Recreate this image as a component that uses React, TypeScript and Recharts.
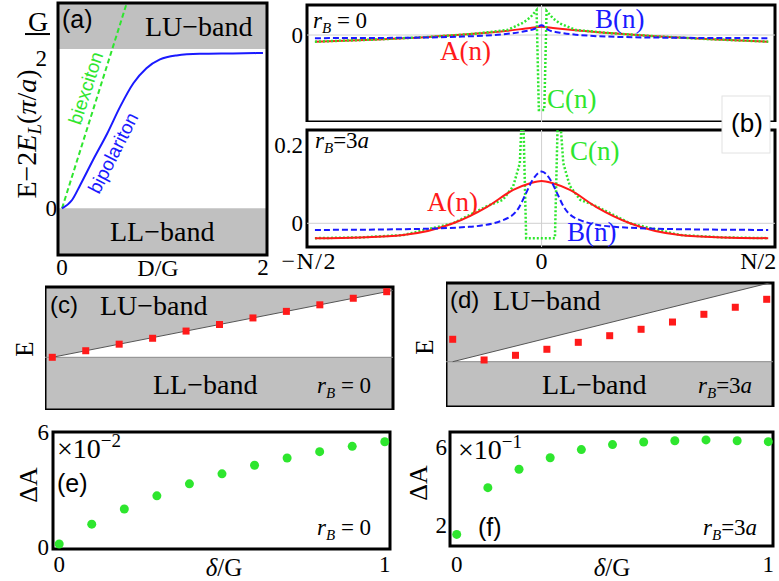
import React from 'react';
import { ComposedChart, Line, Scatter, Area, XAxis, YAxis, ReferenceArea, ReferenceLine } from 'recharts';

const SERIF = '"Liberation Serif", "Times New Roman", serif';
const SANS = '"Liberation Sans", Arial, sans-serif';
const RED = '#ff1a1a';
const BLUE = '#1a1aff';
const GREEN = '#2ee62e';
const BAND = '#c0c0c0';
const PAD = 14;

// (a) two-photon energies vs D/G
const aDx = [0, 0.1, 0.18, 0.31, 0.45, 0.58, 0.71, 0.84, 0.975, 1.14, 1.37, 1.7, 2.0];
const aBipolariton = [0, 0.105, 0.29, 0.61, 0.94, 1.28, 1.57, 1.76, 1.87, 1.92, 1.94, 1.945, 1.95];
const aBiexDx = [0, 0.66];
const aBiexciton = [0, 2.64];

// (b) profiles, r_B = 0
const topAn = [-100, -75, -50, -30, -15, -5, 0, 5, 15, 30, 50, 75, 100];
const topA = [-0.017, -0.012, -0.005, 0.003, 0.011, 0.018, 0.021, 0.018, 0.012, 0.005, -0.003, -0.011, -0.017];
const topBn = [-100, -60, -35, -17, -8, -3, 0, 3, 8, 17, 35, 60, 100];
const topB = [-0.008, -0.007, -0.004, 0.002, 0.009, 0.016, 0.025, 0.013, 0.006, 0.0, -0.005, -0.007, -0.008];
const topCn = [-100, -75, -50, -30, -15, -8, -5, -2.2, -1.2, 1.2, 2.2, 5, 8, 15, 30, 50, 75, 100];
const topC = [-0.017, -0.012, -0.005, 0.003, 0.013, 0.032, 0.045, 0.064, -0.192, -0.192, 0.062, 0.043, 0.03, 0.013, 0.005, -0.003, -0.011, -0.017];

// (b) profiles, r_B = 3a
const botAn = [-100, -80, -61, -39, -24, -12.5, -5, 0, 5, 12.5, 24, 39, 61, 80, 100];
const botA = [-0.038, -0.036, -0.03, 0.0, 0.042, 0.085, 0.102, 0.108, 0.102, 0.085, 0.042, 0.0, -0.03, -0.036, -0.038];
const botBn = [-100, -60, -32, -17, -10, -7, -4, 0, 4, 7, 10, 17, 32, 60, 100];
const botB = [-0.017, -0.015, -0.009, 0.008, 0.04, 0.075, 0.11, 0.132, 0.11, 0.075, 0.04, 0.008, -0.009, -0.015, -0.017];
const botCn = [-100, -80, -61, -39, -24, -17, -12.5, -9.6, -8.3, -6.8, 5.9, 7.4, 9.6, 12.5, 17, 24, 39, 61, 80, 100];
const botC = [-0.038, -0.036, -0.03, 0.0, 0.044, 0.06, 0.095, 0.153, 0.33, -0.038, -0.038, 0.33, 0.153, 0.095, 0.06, 0.044, 0.0, -0.03, -0.036, -0.038];

// (c)-(f) vs delta/G
const deltas = [0, 0.1, 0.2, 0.3, 0.4, 0.5, 0.6, 0.7, 0.8, 0.9, 1.0];
const cEnergy = [0, 0.1, 0.2, 0.29, 0.4, 0.5, 0.6, 0.7, 0.8, 0.9, 1.0];
const dEnergy = [0.287, 0.022, 0.082, 0.159, 0.248, 0.333, 0.415, 0.508, 0.607, 0.697, 0.799];
const eDeltaA = [0.14, 1.18, 1.97, 2.66, 3.29, 3.81, 4.26, 4.64, 4.97, 5.25, 5.49];
const fDeltaA = [1.48, 3.9, 4.85, 5.45, 5.87, 6.13, 6.26, 6.33, 6.37, 6.33, 6.28];
const bandEdgeX = [-0.05, 0, 1.05];
const luEdge = [0, 0, 1.05];

const pts = (xs: number[], ys: number[]) => xs.map((x, i) => ({ x, y: ys[i] }));
const luBand = bandEdgeX.map((x, i) => ({ x, band: [luEdge[i], 2] }));
const luLine = pts(bandEdgeX.slice(1), luEdge.slice(1));

const tickFont = { fontSize: 23, fontFamily: SERIF, fill: '#000' };

type Box = { L: number; T: number; R: number; B: number; yw: number; xh: number };

function Panel({ box, children }: { box: Box; children: React.ReactNode }) {
  const w = box.yw + (box.R - box.L) + PAD;
  const h = PAD + (box.B - box.T) + box.xh;
  return (
    <div style={{ position: 'absolute', left: box.L - box.yw, top: box.T - PAD }}>
      <ComposedChart width={w} height={h} margin={{ top: PAD, right: PAD, bottom: 0, left: 0 }}>
        {children}
      </ComposedChart>
    </div>
  );
}

function Label({ x, y, size = 26, color = '#000', font = SERIF, anchor = 'start', angle = 0, children }: any) {
  return (
    <text transform={`translate(${x},${y}) rotate(${angle})`} fontSize={size} fill={color} fontFamily={font} textAnchor={anchor}>
      {children}
    </text>
  );
}

function RB({ x, y, zero }: { x: number; y: number; zero?: boolean }) {
  return (
    <Label x={x} y={y} size={23}>
      <tspan fontStyle="italic">r</tspan>
      <tspan fontSize={15} dy={5} fontStyle="italic">B</tspan>
      {zero ? (
        <tspan dy={-5}> = 0</tspan>
      ) : (
        <>
          <tspan dy={-5}>=3</tspan>
          <tspan fontStyle="italic">a</tspan>
        </>
      )}
    </Label>
  );
}

const square = (p: any) => <rect x={p.cx - 3.5} y={p.cy - 3.5} width={7} height={7} fill={RED} />;
const dot = (p: any) => <circle cx={p.cx} cy={p.cy} r={4.5} fill={GREEN} />;

const aYTick = (p: any) => {
  if (p.payload.value === 2) {
    return (
      <g fontFamily={SERIF} fontSize={23} fill="#000">
        <text x={p.x - 10} y={p.y + 17} textAnchor="end">2</text>
        <text x={p.x - 19} y={p.y - 18} textAnchor="middle" fontSize={28}>G</text>
        <line x1={p.x - 32} x2={p.x - 7} y1={p.y - 15} y2={p.y - 15} stroke="#000" strokeWidth={2} />
      </g>
    );
  }
  return (
    <text x={p.x} y={p.y} dy="0.35em" textAnchor="end" fontFamily={SERIF} fontSize={23} fill="#000">0</text>
  );
};

// edge labels of the site axis sit pulled in like the original
const nTick = (p: any) => {
  const v = p.payload.value;
  const txt = v < 0 ? '−N/2' : v > 0 ? 'N/2' : '0';
  const x = v < 0 ? p.x + 22 : v > 0 ? p.x + 8 : p.x;
  const anchor = v === 0 ? 'middle' : 'end';
  return (
    <text x={x} y={p.y} dy="0.71em" textAnchor={anchor} fontFamily={SERIF} fontSize={24} fill="#000" letterSpacing={v < 0 ? 1.5 : 0}>
      {txt}
    </text>
  );
};

const A: Box = { L: 58, T: 3, R: 267, B: 255, yw: 58, xh: 35 };
const aX: [number, number] = [-0.04, 2.04];
const aY: [number, number] = [-0.586, 2.578];

const BT: Box = { L: 307, T: 5, R: 775, B: 122, yw: 40, xh: 0 };
const BB: Box = { L: 307, T: 130, R: 775, B: 247, yw: 40, xh: 32 };
const bX: [number, number] = [-103.5, 103];
const btY: [number, number] = [-0.223, 0.077];
const bbY: [number, number] = [-0.0605, 0.238];

const C: Box = { L: 45, T: 287, R: 393, B: 410, yw: 0, xh: 0 };
const cX: [number, number] = [-0.0218, 1.0188];
const cY: [number, number] = [-0.8034, 1.0716];
const D: Box = { L: 446, T: 283, R: 773, B: 407, yw: 0, xh: 0 };
const dX: [number, number] = [-0.0213, 1.0201];
const dY: [number, number] = [-0.58, 1.0077];

const E: Box = { L: 53, T: 432, R: 390, B: 549, yw: 53, xh: 32 };
const eX: [number, number] = [-0.019, 1.016];
const eY: [number, number] = [-0.12, 6];
const F: Box = { L: 450, T: 432, R: 773, B: 546, yw: 40, xh: 32 };
const fX: [number, number] = [-0.0215, 1.015];
const fY: [number, number] = [0.88, 6.78];

function frame(x: [number, number], y: [number, number]) {
  return (
    <ReferenceArea x1={x[0]} x2={x[1]} y1={y[0]} y2={y[1]} fill="none" stroke="#000" strokeWidth={3} ifOverflow="visible" />
  );
}

function bandPanel(box: Box, x: [number, number], y: [number, number], energy: number[]) {
  return (
    <Panel box={box}>
      <XAxis type="number" dataKey="x" domain={x} allowDataOverflow hide />
      <YAxis type="number" domain={y} allowDataOverflow hide />
      <ReferenceArea x1={x[0]} x2={x[1]} y1={y[0]} y2={0} fill={BAND} fillOpacity={1} stroke="none" ifOverflow="visible" />
      <Area data={luBand} dataKey="band" type="linear" fill={BAND} fillOpacity={1} stroke="none" isAnimationActive={false} />
      <ReferenceLine y={0} stroke="#8a8a8a" strokeWidth={1} />
      <Line data={luLine} dataKey="y" type="linear" stroke="#555" strokeWidth={1} dot={false} isAnimationActive={false} />
      <Scatter data={pts(deltas, energy)} dataKey="y" shape={square} isAnimationActive={false} />
      {frame(x, y)}
    </Panel>
  );
}

export default function App() {
  return (
    <div style={{ position: 'absolute', left: 0, top: 0, width: 779, height: 581, background: '#fff', overflow: 'hidden' }}>
      {/* (a) */}
      <Panel box={A}>
        <XAxis type="number" dataKey="x" domain={aX} allowDataOverflow ticks={[0, 2]} height={A.xh} axisLine={false} tickLine={false} tickSize={0} tickMargin={4} tick={tickFont} />
        <YAxis type="number" domain={aY} allowDataOverflow ticks={[0, 2]} width={A.yw} axisLine={false} tickLine={false} tickSize={0} tickMargin={1} tick={aYTick} />
        <ReferenceArea x1={aX[0]} x2={aX[1]} y1={2} y2={aY[1]} fill={BAND} fillOpacity={1} stroke="none" ifOverflow="visible" />
        <ReferenceArea x1={aX[0]} x2={aX[1]} y1={aY[0]} y2={0} fill={BAND} fillOpacity={1} stroke="none" ifOverflow="visible" />
        <Line data={pts(aBiexDx, aBiexciton)} dataKey="y" type="linear" stroke={GREEN} strokeWidth={2} strokeDasharray="5 3" dot={false} isAnimationActive={false} />
        <Line data={pts(aDx, aBipolariton)} dataKey="y" type="monotone" stroke={BLUE} strokeWidth={2} dot={false} isAnimationActive={false} />
        {frame(aX, aY)}
      </Panel>

      {/* (b) top */}
      <Panel box={BT}>
        <XAxis type="number" dataKey="x" domain={bX} allowDataOverflow hide />
        <YAxis type="number" domain={btY} allowDataOverflow ticks={[0]} width={BT.yw} axisLine={false} tickLine={false} tickSize={0} tickMargin={4} tick={tickFont} />
        <ReferenceLine x={0} stroke="#cfcfcf" strokeWidth={1} />
        <ReferenceLine y={0} stroke="#cfcfcf" strokeWidth={1} />
        <Line data={pts(topAn, topA)} dataKey="y" type="monotone" stroke={RED} strokeWidth={2} dot={false} isAnimationActive={false} />
        <Line data={pts(topCn, topC)} dataKey="y" type="linear" stroke={GREEN} strokeWidth={2.5} strokeDasharray="2 2" dot={false} isAnimationActive={false} />
        <Line data={pts(topBn, topB)} dataKey="y" type="monotone" stroke={BLUE} strokeWidth={2} strokeDasharray="6 3" dot={false} isAnimationActive={false} />
        {frame(bX, btY)}
      </Panel>

      {/* (b) bottom */}
      <Panel box={BB}>
        <XAxis type="number" dataKey="x" domain={bX} allowDataOverflow ticks={[-100, 0, 100]} height={BB.xh} axisLine={false} tickLine={false} tickSize={0} tickMargin={5} tick={nTick} />
        <YAxis type="number" domain={bbY} allowDataOverflow ticks={[0, 0.2]} width={BB.yw} axisLine={false} tickLine={false} tickSize={0} tickMargin={4} tick={tickFont} />
        <ReferenceLine x={0} stroke="#cfcfcf" strokeWidth={1} />
        <ReferenceLine y={0} stroke="#cfcfcf" strokeWidth={1} />
        <Line data={pts(botCn, botC)} dataKey="y" type="linear" stroke={GREEN} strokeWidth={2.5} strokeDasharray="2 2" dot={false} isAnimationActive={false} />
        <Line data={pts(botAn, botA)} dataKey="y" type="monotone" stroke={RED} strokeWidth={2} dot={false} isAnimationActive={false} />
        <Line data={pts(botBn, botB)} dataKey="y" type="monotone" stroke={BLUE} strokeWidth={2} strokeDasharray="6 3" dot={false} isAnimationActive={false} />
        {frame(bX, bbY)}
      </Panel>

      {/* (c), (d) */}
      {bandPanel(C, cX, cY, cEnergy)}
      {bandPanel(D, dX, dY, dEnergy)}

      {/* (e) */}
      <Panel box={E}>
        <XAxis type="number" dataKey="x" domain={eX} allowDataOverflow ticks={[0, 1]} height={E.xh} axisLine={false} tickLine={false} tickSize={0} tickMargin={7} tick={tickFont} />
        <YAxis type="number" domain={eY} allowDataOverflow ticks={[0, 6]} width={E.yw} axisLine={false} tickLine={false} tickSize={0} tickMargin={4} tick={tickFont} />
        <Scatter data={pts(deltas, eDeltaA)} dataKey="y" shape={dot} isAnimationActive={false} />
        {frame(eX, eY)}
      </Panel>

      {/* (f) */}
      <Panel box={F}>
        <XAxis type="number" dataKey="x" domain={fX} allowDataOverflow ticks={[0, 1]} height={F.xh} axisLine={false} tickLine={false} tickSize={0} tickMargin={10} tick={tickFont} />
        <YAxis type="number" domain={fY} allowDataOverflow ticks={[2, 6]} width={F.yw} axisLine={false} tickLine={false} tickSize={0} tickMargin={3} tick={tickFont} />
        <Scatter data={pts(deltas, fDeltaA)} dataKey="y" shape={dot} isAnimationActive={false} />
        {frame(fX, fY)}
      </Panel>

      {/* annotations */}
      <svg width={779} height={581} style={{ position: 'absolute', left: 0, top: 0, pointerEvents: 'none' }}>
        {/* (a) */}
        <Label x={62} y={28} size={25} font={SANS}>(a)</Label>
        <Label x={145} y={36} size={28}>LU−band</Label>
        <Label x={110} y={241} size={28}>LL−band</Label>
        <Label x={92} y={90} size={19} font={SANS} color={GREEN} anchor="middle" angle={-72}>biexciton</Label>
        <Label x={119} y={156} size={19} font={SANS} color={BLUE} anchor="middle" angle={-63}>bipolariton</Label>
        <Label x={36} y={134} size={28} anchor="middle" angle={-90}>
          E−2<tspan fontStyle="italic">E</tspan>
          <tspan fontSize={19} dy={5} fontStyle="italic">L</tspan>
          <tspan dy={-5}>(</tspan>
          <tspan fontStyle="italic">π</tspan>/<tspan fontStyle="italic">a</tspan>)
        </Label>
        <Label x={158} y={276} size={24} anchor="middle">D/G</Label>

        {/* (b) */}
        <RB x={313} y={28} zero />
        <Label x={440} y={60} size={27} color={RED}>A(n)</Label>
        <Label x={595} y={28} size={27} color={BLUE}>B(n)</Label>
        <Label x={547} y={108} size={27} color={GREEN}>C(n)</Label>
        <RB x={315} y={148} />
        <Label x={570} y={160} size={27} color={GREEN}>C(n)</Label>
        <Label x={427} y={211} size={27} color={RED}>A(n)</Label>
        <Label x={567} y={241} size={27} color={BLUE}>B(n)</Label>
        <rect x={722} y={96} width={48} height={57} fill="#fff" stroke="#e2e2e2" />
        <Label x={747} y={132} size={26} font={SANS} anchor="middle">(b)</Label>

        {/* (c) */}
        <Label x={50} y={313} size={24} font={SANS}>(c)</Label>
        <Label x={100} y={315} size={28}>LU−band</Label>
        <Label x={153} y={394} size={28}>LL−band</Label>
        <RB x={317} y={393} zero />
        <Label x={33} y={349} size={25} anchor="middle" angle={-90}>E</Label>

        {/* (d) */}
        <Label x={450} y={308} size={24} font={SANS}>(d)</Label>
        <Label x={493} y={310} size={28}>LU−band</Label>
        <Label x={542} y={394} size={28}>LL−band</Label>
        <RB x={698} y={393} />
        <Label x={433} y={347} size={25} anchor="middle" angle={-90}>E</Label>

        {/* (e) */}
        <Label x={57} y={458} size={28}>
          ×10<tspan fontSize={19} dy={-11}>−2</tspan>
        </Label>
        <Label x={57} y={492} size={25} font={SANS}>(e)</Label>
        <Label x={37} y={485} size={26} anchor="middle" angle={-90}>ΔA</Label>
        <RB x={317} y={535} zero />
        <Label x={224} y={576} size={25} anchor="middle">
          <tspan fontStyle="italic">δ</tspan>/G
        </Label>

        {/* (f) */}
        <Label x={458} y={459} size={28}>
          ×10<tspan fontSize={19} dy={-11}>−1</tspan>
        </Label>
        <Label x={478} y={536} size={25} font={SANS}>(f)</Label>
        <Label x={427} y={483} size={26} anchor="middle" angle={-90}>ΔA</Label>
        <RB x={703} y={535} />
        <Label x={612} y={576} size={25} anchor="middle">
          <tspan fontStyle="italic">δ</tspan>/G
        </Label>
      </svg>
    </div>
  );
}
